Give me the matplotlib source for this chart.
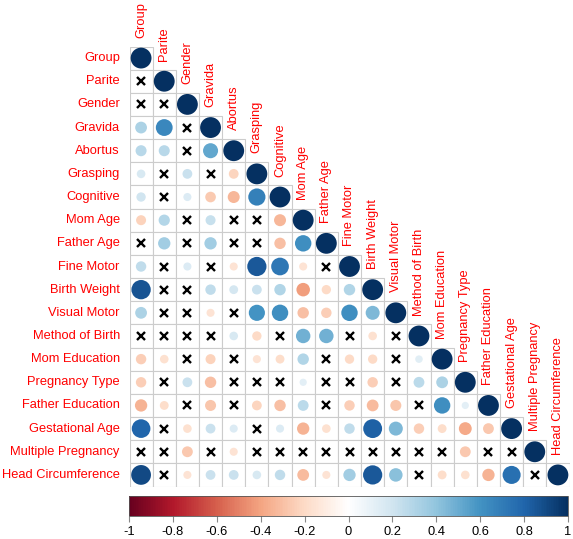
import numpy as np
import matplotlib
matplotlib.use("Agg")
import matplotlib.pyplot as plt
from matplotlib.colors import LinearSegmentedColormap, Normalize
from matplotlib.patches import Circle, Rectangle
from matplotlib.cm import ScalarMappable

plt.rcParams["font.family"] = ["Liberation Sans", "DejaVu Sans"]

labels = [
    "Group", "Parite", "Gender", "Gravida", "Abortus", "Grasping", "Cognitive",
    "Mom Age", "Father Age", "Fine Motor", "Birth Weight", "Visual Motor",
    "Method of Birth", "Mom Education", "Pregnancy Type", "Father Education",
    "Gestational Age", "Multiple Pregnancy", "Head Circumference",
]

X = None  # not significant -> drawn as a cross

# lower triangle of the correlation matrix, row by row
corr_rows = [
    [1],
    [X, 1],
    [X, X, 1],
    [0.32, 0.65, X, 1],
    [0.28, 0.28, X, 0.52, 1],
    [0.17, X, 0.22, X, -0.22, 1],
    [0.2, X, 0.15, -0.26, -0.33, 0.68, 1],
    [-0.23, 0.29, X, 0.23, X, X, -0.33, 1],
    [X, 0.35, X, 0.35, X, X, -0.3, 0.62, 1],
    [0.25, X, 0.15, X, -0.15, 0.85, 0.72, -0.15, X, 1],
    [0.86, X, X, 0.25, 0.18, 0.22, 0.3, -0.42, -0.2, 0.3, 1],
    [0.32, X, X, -0.15, X, 0.6, 0.62, -0.3, -0.25, 0.62, 0.45, 1],
    [X, X, X, X, 0.17, -0.2, X, 0.48, 0.48, X, -0.17, X, 1],
    [-0.25, -0.17, X, -0.23, X, -0.15, -0.18, 0.3, X, -0.2, -0.2, X, 0.13, 1],
    [-0.25, X, 0.22, -0.3, X, X, X, 0.12, X, X, -0.25, X, 0.27, 0.32, 1],
    [-0.35, -0.18, X, -0.28, X, -0.22, -0.3, 0.27, X, -0.25, -0.32, -0.28, X,
     0.62, 0.12, 1],
    [0.8, X, -0.17, 0.22, 0.15, X, 0.15, -0.35, -0.17, 0.25, 0.82, 0.45,
     -0.25, -0.18, -0.38, -0.27, 1],
    [X, X, -0.27, X, -0.15, X, X, X, X, X, X, X, X, X, -0.27, X, X, 1],
    [0.9, X, -0.15, 0.22, 0.22, 0.17, 0.25, -0.32, -0.15, 0.35, 0.85, 0.42, X,
     -0.18, -0.17, -0.35, 0.75, X, 1],
]

cbar_ticks = [-1, -0.8, -0.6, -0.4, -0.2, 0, 0.2, 0.4, 0.6, 0.8, 1]

# corrplot's RdBu palette
rdbu = LinearSegmentedColormap.from_list(
    "corr_rdbu",
    ["#67001F", "#B2182B", "#D6604D", "#F4A582", "#FDDBC7", "#FFFFFF",
     "#D1E5F0", "#92C5DE", "#4393C3", "#2166AC", "#053061"],
)
norm = Normalize(-1, 1)

W, H = 573, 539
fig = plt.figure(figsize=(W / 100, H / 100), dpi=100)
n = len(labels)

# matrix panel
x0, x1 = 129.5, 569.5
y0, y1 = 46.5, 486.5
ax = fig.add_axes([x0 / W, 1 - y1 / H, (x1 - x0) / W, (y1 - y0) / H])
ax.set_xlim(-0.5, n - 0.5)
ax.set_ylim(n - 0.5, -0.5)
ax.axis("off")

for i, row in enumerate(corr_rows):
    for j, r in enumerate(row):
        ax.add_patch(Rectangle((j - 0.5, i - 0.5), 1, 1, facecolor="white",
                               edgecolor="#CCCCCC", linewidth=0.8, zorder=1))
        if r is None:
            ax.plot(j, i, marker="x", color="black", markersize=5.5,
                    markeredgewidth=1.7, zorder=3)
        else:
            ax.add_patch(Circle((j, i), 0.45 * np.sqrt(abs(r)),
                                facecolor=rdbu(norm(r)), edgecolor="none",
                                zorder=2))

for k, name in enumerate(labels):
    ax.text(-0.92, k, name, ha="right", va="center", color="red",
            fontsize=9.3)
    ax.text(k, k - 0.88, name, ha="center", va="bottom", rotation=90,
            color="red", fontsize=9.3)

# colour legend
cax = fig.add_axes([129 / W, 1 - 516 / H, 439 / W, 20 / H])
sm = ScalarMappable(norm=norm, cmap=rdbu)
cb = fig.colorbar(sm, cax=cax, orientation="horizontal", ticks=cbar_ticks)
cb.ax.set_xticklabels([f"{t:g}" for t in cbar_ticks])
cb.ax.tick_params(direction="out", length=4, width=0.8, color="#888888",
                  labelsize=9.3, pad=3)
cb.outline.set_linewidth(0.6)
cb.outline.set_edgecolor("#555555")

plt.savefig("out.png", dpi=100)
